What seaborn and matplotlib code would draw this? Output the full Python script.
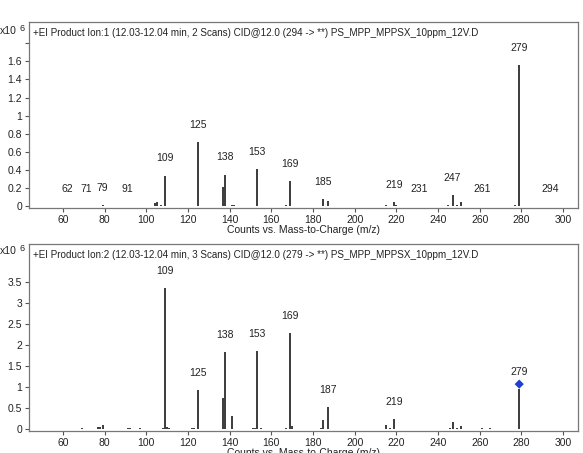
import matplotlib
matplotlib.use("Agg")
import matplotlib.pyplot as plt
import seaborn as sns
import pandas as pd

# espectro 1 (precursor 294), intensidades em x10^6
mz_1 = [79, 104, 105, 107, 109, 125, 137, 138, 141, 142, 153, 167, 169,
        185, 187, 215, 219, 220, 245, 247, 249, 251, 277, 279]
int_1 = [0.01, 0.035, 0.05, 0.01, 0.34, 0.71, 0.21, 0.35, 0.02, 0.015, 0.41,
         0.01, 0.28, 0.08, 0.06, 0.01, 0.045, 0.02, 0.015, 0.125, 0.01, 0.05,
         0.015, 1.56]
labels_1 = [62, 71, 79, 91, 109, 125, 138, 153, 169, 185, 219, 231, 247,
            261, 279, 294]

# espectro 2 (precursor 279)
mz_2 = [69, 77, 78, 79, 91, 92, 97, 108, 109, 110, 111, 122, 123, 125, 127,
        137, 138, 141, 151, 152, 153, 155, 167, 169, 170, 184, 185, 187, 215,
        217, 219, 246, 247, 249, 251, 261, 265, 279]
int_2 = [0.02, 0.05, 0.06, 0.11, 0.04, 0.03, 0.04, 0.03, 3.34, 0.06, 0.04,
         0.02, 0.02, 0.93, 0.01, 0.73, 1.82, 0.31, 0.02, 0.03, 1.85, 0.02,
         0.02, 2.28, 0.08, 0.03, 0.22, 0.52, 0.1, 0.02, 0.24, 0.03, 0.17,
         0.02, 0.08, 0.04, 0.02, 0.95]
labels_2 = [109, 125, 138, 153, 169, 187, 219, 279]
precursor_2 = 279

titles = ["+EI Product Ion:1 (12.03-12.04 min, 2 Scans) CID@12.0 (294 -> **) PS_MPP_MPPSX_10ppm_12V.D",
          "+EI Product Ion:2 (12.03-12.04 min, 3 Scans) CID@12.0 (279 -> **) PS_MPP_MPPSX_10ppm_12V.D"]
xlabel = "Counts vs. Mass-to-Charge (m/z)"

sns.set_style("ticks")
plt.rcParams['font.family'] = ['Liberation Sans', 'DejaVu Sans']
fs = 7.5

fig = plt.figure(figsize=(5.83, 4.53), dpi=100)
ax1 = fig.add_axes([0.0497, 0.5408, 0.9417, 0.4106])
ax2 = fig.add_axes([0.0497, 0.0486, 0.9417, 0.4128])


def desenha(ax, mz, inten, labels, title, ylim, yticks, ylabels):
    df = pd.DataFrame({'mz': mz, 'i': inten})
    ax.vlines(df['mz'], 0, df['i'], color='#1a1a1a', lw=1.2)
    lookup = dict(zip(mz, inten))
    for m in labels:
        ax.annotate(str(m), (m, lookup.get(m, 0)), xytext=(0, 12.5),
                    textcoords='offset points', ha='center', va='center',
                    fontsize=fs, color='#222222')
    ax.set_xlim(43.7, 307.2)
    ax.set_ylim(*ylim)
    ax.set_xticks(range(60, 301, 20))
    ax.set_yticks(yticks)
    ax.set_yticklabels(ylabels)
    ax.tick_params(labelsize=fs, length=3, width=0.8, pad=2,
                   color='#555555', labelcolor='#222222')
    for s in ax.spines.values():
        s.set_visible(True)
        s.set_color('#777777')
        s.set_linewidth(0.9)
    ax.text(0.007, 0.94, title, transform=ax.transAxes, fontsize=7.1,
            ha='left', va='center', color='#222222')
    ax.set_xlabel(xlabel, fontsize=fs, labelpad=0, color='#222222')


yt1 = [0, 0.2, 0.4, 0.6, 0.8, 1, 1.2, 1.4, 1.6, 1.8]
desenha(ax1, mz_1, int_1, labels_1, titles[0], (-0.018, 2.034), yt1,
        ['0', '0.2', '0.4', '0.6', '0.8', '1', '1.2', '1.4', '1.6', ''])
yt2 = [0, 0.5, 1, 1.5, 2, 2.5, 3, 3.5]
desenha(ax2, mz_2, int_2, labels_2, titles[1], (-0.04, 4.39), yt2,
        ['0', '0.5', '1', '1.5', '2', '2.5', '3', '3.5'])

# marcador do precursor
p = dict(zip(mz_2, int_2))[precursor_2]
sns.scatterplot(x=[precursor_2], y=[p + 0.12], marker='D', color='#1f3fd0',
                s=22, edgecolor='none', ax=ax2, legend=False)

for y in (1 - 30.7 / 453, 1 - 250.7 / 453):
    fig.text(0.0, y, 'x10', fontsize=fs, ha='left', va='center', color='#222222')
    fig.text(0.034, y + 0.004, '6', fontsize=fs - 1, ha='left', va='center', color='#222222')

fig.savefig('out.png', dpi=100)
